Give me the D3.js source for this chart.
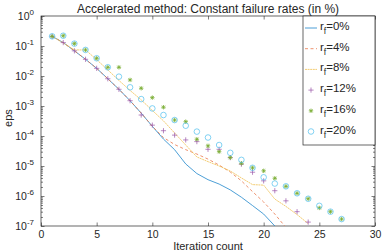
<!DOCTYPE html>
<html>
<head>
<meta charset="utf-8">
<script src="https://cdn.jsdelivr.net/npm/d3@7"></script>
<style>
  body { margin: 0; background: #fff; }
  text { font-family: "Liberation Sans", Arial, sans-serif; fill: #262626; }
</style>
</head>
<body>
<script>
// iteration numbers
var iters = d3.range(1, 28)

// eps per iteration, one array per failure rate
var rf0  = [0.21, 0.13, 0.069, 0.036, 0.018, 0.0081, 0.0036, 0.0015, 5.8e-4, 2.1e-4, 7.9e-5, 3.5e-5, 1.17e-5, 5.6e-6, 3.5e-6, 2.5e-6, 1.6e-6, 9.1e-7, 4.8e-7, 2.5e-7, 1.0e-7]
var rf4  = [0.21, 0.13, 0.069, 0.036, 0.018, 0.0081, 0.0036, 0.0015, 5.8e-4, 2.1e-4, 8.9e-5, 5.2e-5, 3.5e-5, 2.5e-5, 1.7e-5, 1.07e-5, 6.3e-6, 3.2e-6, 1.4e-6, 6.3e-7, 2.5e-7, 8.9e-8]
var rf8  = [0.21, 0.125, 0.074, 0.074, 0.035, 0.016, 0.0071, 0.0033, 0.0016, 7.1e-4, 3.2e-4, 1.26e-4, 5.0e-5, 2.0e-5, 1.4e-5, 1.0e-5, 6.8e-6, 4.0e-6, 2.4e-6, 2.3e-6, 7.9e-7, 4.5e-7, 2.4e-7, 1.2e-7]
var rf12 = [0.21, 0.13, 0.069, 0.036, 0.018, 0.0081, 0.0036, 0.0015, 5.0e-4, 2.3e-4, 1.5e-4, 1.07e-4, 7.4e-5, 6.5e-5, 3.6e-5, 3.6e-5, 1.9e-5, 1.15e-5, 6.2e-6, 3.2e-6, 1.5e-6, 6.9e-7, 3.0e-7, 1.35e-7]
var rf16 = [0.21, 0.22, 0.12, 0.074, 0.039, 0.0195, 0.0195, 0.0074, 0.0039, 0.0019, 9.1e-4, 3.4e-4, 3.0e-4, 7.8e-5, 4.7e-5, 3.0e-5, 1.9e-5, 1.23e-5, 8.7e-6, 6.9e-6, 3.9e-6, 2.1e-6, 1.23e-6, 8.1e-7, 4.0e-7, 3.0e-7, 1.7e-7]
var rf20 = [0.21, 0.22, 0.12, 0.074, 0.039, 0.0195, 0.0095, 0.0042, 0.0017, 8.3e-4, 5.0e-4, 3.4e-4, 2.2e-4, 1.4e-4, 8.9e-5, 5.0e-5, 2.75e-5, 1.6e-5, 8.7e-6, 4.2e-6, 2.6e-6, 2.1e-6, 1.23e-6, 8.1e-7, 4.7e-7, 3.0e-7, 1.7e-7]

var labels = ["0%", "4%", "8%", "12%", "16%", "20%"]
var xTicks = [0, 5, 10, 15, 20, 25, 30]
var yExps = [0, -1, -2, -3, -4, -5, -6, -7]

var series = [
  {values: rf0,  label: labels[0], color: "#1f86cc", kind: "line"},
  {values: rf4,  label: labels[1], color: "#e8764a", kind: "line", dash: "3,2.5"},
  {values: rf8,  label: labels[2], color: "#f0c050", kind: "line", dash: "2,0.6"},
  {values: rf12, label: labels[3], color: "#9a55a8", kind: "plus"},
  {values: rf16, label: labels[4], color: "#77AC30", kind: "star"},
  {values: rf20, label: labels[5], color: "#4DBEEE", kind: "circle"}
]

var W = 382, H = 252
var pL = 41, pR = 375, pT = 16, pB = 226

var svg = d3.select("body").append("svg").attr("width", W).attr("height", H)

var x = d3.scaleLinear().domain([0, 30]).range([pL, pR])
var y = d3.scaleLog().domain([1e-7, 1]).range([pB, pT])

var decades = yExps.map(function(e) { return Math.pow(10, e) })
var minors = []
decades.slice(1).forEach(function(d) {
  for (var k = 2; k <= 9; k++) minors.push(d * k)
})

function styleAxis(g) {
  g.select(".domain").remove()
  g.selectAll("line").attr("stroke", "#262626").attr("stroke-width", 0.6)
  g.selectAll("text").style("font-family", "Liberation Sans, Arial, sans-serif").attr("fill", "#262626")
}

// x axes (bottom with labels, top ticks only)
svg.append("g").attr("transform", "translate(0," + pB + ")")
  .call(d3.axisBottom(x).tickValues(xTicks).tickSize(-3.5).tickSizeOuter(0).tickPadding(5))
  .call(styleAxis)
  .selectAll("text").style("font-size", "10.5px")
svg.append("g").attr("transform", "translate(0," + pT + ")")
  .call(d3.axisTop(x).tickValues(xTicks).tickSize(-3.5).tickSizeOuter(0).tickFormat(""))
  .call(styleAxis)

// y axes: major decades, minor ticks, both sides
var yl = svg.append("g").attr("transform", "translate(" + pL + ",0)")
  .call(d3.axisLeft(y).tickValues(decades).tickSize(-3.5).tickSizeOuter(0).tickPadding(7))
  .call(styleAxis)
yl.selectAll("text").each(function(d) {
  var t = d3.select(this).text("").style("font-size", "10.5px")
  t.append("tspan").text("10")
  t.append("tspan").attr("dy", -5).style("font-size", "8px").text(Math.round(Math.log10(d)))
})
svg.append("g").attr("transform", "translate(" + pL + ",0)")
  .call(d3.axisLeft(y).tickValues(minors).tickSize(-2).tickSizeOuter(0).tickFormat(""))
  .call(styleAxis)
svg.append("g").attr("transform", "translate(" + pR + ",0)")
  .call(d3.axisRight(y).tickValues(decades).tickSize(-3.5).tickSizeOuter(0).tickFormat(""))
  .call(styleAxis)
svg.append("g").attr("transform", "translate(" + pR + ",0)")
  .call(d3.axisRight(y).tickValues(minors).tickSize(-2).tickSizeOuter(0).tickFormat(""))
  .call(styleAxis)

// box
svg.append("rect").attr("x", pL).attr("y", pT).attr("width", pR - pL).attr("height", pB - pT)
  .attr("fill", "none").attr("stroke", "#262626").attr("stroke-width", 0.7)

svg.append("clipPath").attr("id", "clip").append("rect")
  .attr("x", pL).attr("y", pT).attr("width", pR - pL).attr("height", pB - pT)

var plot = svg.append("g").attr("clip-path", "url(#clip)")

var lineFunc = d3.line()
  .x(function(d, i) { return x(iters[i]) })
  .y(function(d) { return y(d) })

function marker(g, kind, color, cx, cy) {
  if (kind == "plus") {
    g.append("path").attr("d", "M" + (cx - 2.6) + "," + cy + "h5.2M" + cx + "," + (cy - 2.6) + "v5.2")
      .attr("stroke", color).attr("stroke-width", 0.7).attr("fill", "none")
  } else if (kind == "star") {
    var s = 2.2, q = 1.6
    g.append("path").attr("d", "M" + (cx - s) + "," + cy + "h" + 2 * s + "M" + cx + "," + (cy - s) + "v" + 2 * s +
        "M" + (cx - q) + "," + (cy - q) + "l" + 2 * q + "," + 2 * q + "M" + (cx - q) + "," + (cy + q) + "l" + 2 * q + "," + (-2 * q))
      .attr("stroke", color).attr("stroke-width", 0.8).attr("fill", "none")
  } else if (kind == "circle") {
    g.append("circle").attr("cx", cx).attr("cy", cy).attr("r", 2.8)
      .attr("stroke", color).attr("stroke-width", 0.7).attr("fill", "none")
  }
}

series.forEach(function(s) {
  if (s.kind == "line") {
    plot.append("path").attr("d", lineFunc(s.values))
      .attr("fill", "none").attr("stroke", s.color).attr("stroke-width", 0.8)
      .attr("stroke-dasharray", s.dash || null)
  } else {
    s.values.forEach(function(v, i) { marker(plot, s.kind, s.color, x(iters[i]), y(v)) })
  }
})

// legend
var lg = svg.append("g")
lg.append("rect").attr("x", 303).attr("y", pT).attr("width", 72).attr("height", 129)
  .attr("fill", "#fff").attr("stroke", "#262626").attr("stroke-width", 0.7)
series.forEach(function(s, i) {
  var ry = 28 + i * 20.7
  if (s.kind == "line") {
    lg.append("line").attr("x1", 305).attr("x2", 317).attr("y1", ry).attr("y2", ry)
      .attr("stroke", s.color).attr("stroke-width", 0.8).attr("stroke-dasharray", s.dash || null)
  } else {
    marker(lg, s.kind, s.color, 311, ry)
  }
  var t = lg.append("text").attr("x", 320).attr("y", ry + 2).style("font-size", "11.5px")
  t.append("tspan").text("r")
  t.append("tspan").attr("dy", 4).style("font-size", "8.5px").text("f")
  t.append("tspan").attr("dy", -4).text("=" + s.label)
})

// title and axis labels
svg.append("text").attr("x", (pL + pR) / 2).attr("y", 13).attr("text-anchor", "middle")
  .style("font-size", "12px").text("Accelerated method: Constant failure rates (in %)")
svg.append("text").attr("x", (pL + pR) / 2).attr("y", 250).attr("text-anchor", "middle")
  .style("font-size", "11px").text("Iteration count")
svg.append("text").attr("transform", "translate(12," + 118 + ") rotate(-90)").attr("text-anchor", "middle")
  .style("font-size", "11px").text("eps")
</script>
</body>
</html>
